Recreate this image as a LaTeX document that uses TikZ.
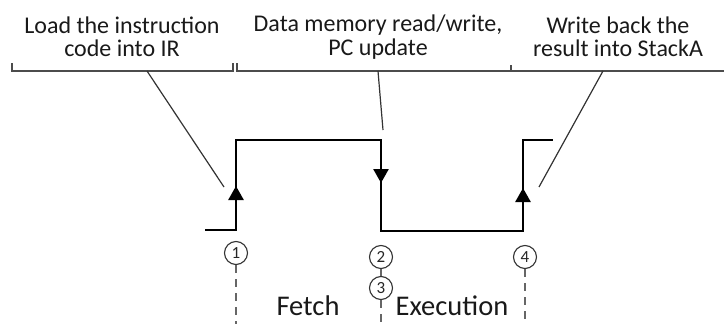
\documentclass[tikz,border=0pt]{standalone}
\usepackage{fontspec}
\setmainfont{Carlito}
\usetikzlibrary{arrows.meta}
\tikzset{
  wave/.style={line width=2.6pt, black, line join=miter},
  edgearrow/.style={line width=2.6pt, -{Triangle[width=15pt,length=14pt]}},
  bracket/.style={line width=1.8pt, black!70},
  leader/.style={line width=1.2pt, black!80},
  topnote/.style={align=center, font=\fontsize{24}{23.5}\selectfont, text=black!90, inner sep=0pt},
  phase/.style={font=\fontsize{28.5}{30}\selectfont, text=black!90, inner sep=0pt},
  stepcircle/.style={circle, draw=black!80, line width=1.1pt, minimum size=23pt, inner sep=0pt, font=\fontsize{17}{17}\selectfont, text=black!85},
  guide/.style={line width=1.4pt, black!60, dash pattern=on 8pt off 6pt},
}
\begin{document}
\begin{tikzpicture}[x=1pt,y=-1pt]
\useasboundingbox (0,0) rectangle (724,324);
% top notes
\node[topnote] (n1) at (122,37) {Load the instruction\\code into IR};
\node[topnote] (n2) at (378,37) {Data memory read/write,\\PC update};
\node[topnote] (n3) at (618,37) {Write back the\\result into StackA};
% brackets
\draw[bracket] (12,63) -- (12,71) -- (233,71) -- (233,63);
\draw[bracket] (237,63) -- (237,71) -- (511,71) -- (511,65);
\draw[bracket] (511,71) -- (724,71);
\coordinate (b1) at (147,71);
\coordinate (b2) at (378,71);
\coordinate (b3) at (603,71);
\coordinate (e1) at (224,187);
\coordinate (e2) at (383,130);
\coordinate (e3) at (539,187);
\draw[leader] (b1) -- (e1);
\draw[leader] (b2) -- (e2);
\draw[leader] (b3) -- (e3);
% waveform
\coordinate (w0) at (205,230);
\coordinate (w1) at (236,230);
\coordinate (w2) at (236,140);
\coordinate (w3) at (381,140);
\coordinate (w4) at (381,231);
\coordinate (w5) at (523,231);
\coordinate (w6) at (523,140);
\coordinate (w7) at (553,140);
\draw[wave] (w0) -- (w1) -- (w2) -- (w3) -- (w4) -- (w5) -- (w6) -- (w7);
\draw[edgearrow] (236,215) -- (236,186);
\draw[edgearrow] (381,160) -- (381,183);
\draw[edgearrow] (523,215) -- (523,188);
% step markers
\node[stepcircle] (c1) at (236,253) {1};
\node[stepcircle] (c2) at (381,257) {2};
\node[stepcircle] (c3) at (381,288) {3};
\node[stepcircle] (c4) at (525,257) {4};
\coordinate (d1) at (236,324);
\coordinate (d3) at (381,324);
\coordinate (d4) at (525,324);
\draw[guide] (c1.south) -- (d1);
\draw[line width=1.2pt, black!60] (c2.south) -- (c3.north);
\draw[guide] (c3.south) -- (d3);
\draw[guide] (c4.south) -- (d4);
% phases
\node[phase] (f) at (308,306) {Fetch};
\node[phase] (x) at (452,306) {Execution};
\end{tikzpicture}
\end{document}
